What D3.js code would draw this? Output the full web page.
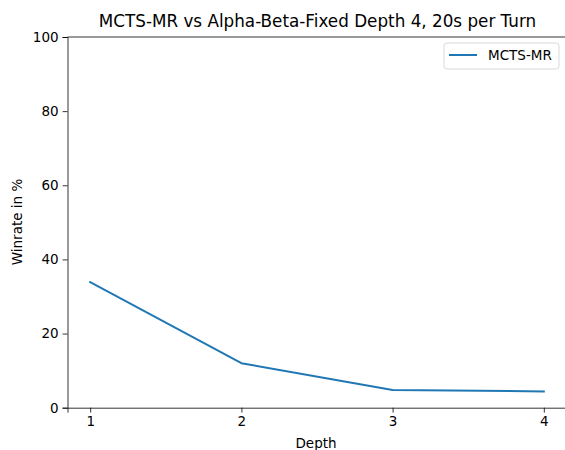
<!DOCTYPE html>
<html>
<head>
<meta charset="utf-8">
<script src="https://cdn.jsdelivr.net/npm/d3@7"></script>
<style>
  body { margin: 0; background: #fff; }
  text { font-family: 'DejaVu Sans', sans-serif; fill: #000; }
</style>
</head>
<body>
<div id="chart"></div>
<script>
const depths = [1, 2, 3, 4];
const winrates = [33.9, 12.0, 4.8, 4.4];
const yTicks = [0, 20, 40, 60, 80, 100];
const seriesName = 'MCTS-MR';
const title = 'MCTS-MR vs Alpha-Beta-Fixed Depth 4, 20s per Turn';

const width = 565;
const height = 450;
const margin = { top: 37, right: -1.5, bottom: 42.3, left: 67.5 };

const svg = d3.select('#chart').append('svg')
  .attr('width', width)
  .attr('height', height);

const x = d3.scaleLinear()
  .domain([0.85, 4.15])
  .range([margin.left, width - margin.right]);

const y = d3.scaleLinear()
  .domain([0, 100])
  .range([height - margin.bottom, margin.top]);

const xAxis = svg.append('g')
  .attr('transform', `translate(0,${height - margin.bottom})`)
  .call(d3.axisBottom(x).tickValues(depths).tickFormat(d3.format('d')).tickSizeOuter(0).tickSize(4.9).tickPadding(4));

const yAxis = svg.append('g')
  .attr('transform', `translate(${margin.left},0)`)
  .call(d3.axisLeft(y).tickValues(yTicks).tickSizeOuter(0).tickSize(4.9).tickPadding(4));

[xAxis, yAxis].forEach(g => {
  g.selectAll('.domain').attr('stroke', '#000').attr('stroke-width', 0.8);
  g.selectAll('.tick line').attr('stroke', '#000').attr('stroke-width', 0.8);
  g.selectAll('.tick text').style('font-size', '13.5px').attr('fill', '#000');
});

// top spine
svg.append('line')
  .attr('x1', margin.left).attr('x2', width - margin.right)
  .attr('y1', margin.top).attr('y2', margin.top)
  .attr('stroke', '#000').attr('stroke-width', 0.8);

const line = d3.line()
  .x((d, i) => x(depths[i]))
  .y(d => y(d));

svg.append('path')
  .datum(winrates)
  .attr('fill', 'none')
  .attr('stroke', '#1f77b4')
  .attr('stroke-width', 2)
  .attr('stroke-linejoin', 'round')
  .attr('stroke-linecap', 'square')
  .attr('d', line);

svg.append('text')
  .attr('x', 317.5)
  .attr('y', 27)
  .attr('text-anchor', 'middle')
  .style('font-size', '16.8px')
  .text(title);

svg.append('text')
  .attr('x', 316)
  .attr('y', 448)
  .attr('text-anchor', 'middle')
  .style('font-size', '13.5px')
  .text('Depth');

svg.append('text')
  .attr('transform', 'translate(22,222) rotate(-90)')
  .attr('text-anchor', 'middle')
  .style('font-size', '13.5px')
  .text('Winrate in %');

// legend
const legend = svg.append('g').attr('transform', 'translate(444,43)');
legend.append('rect')
  .attr('width', 115).attr('height', 26).attr('rx', 3)
  .attr('fill', '#fff').attr('stroke', '#d9d9d9').attr('stroke-width', 1);
legend.append('line')
  .attr('x1', 5).attr('x2', 33).attr('y1', 12).attr('y2', 12)
  .attr('stroke', '#1f77b4').attr('stroke-width', 2);
legend.append('text')
  .attr('x', 44).attr('y', 17)
  .style('font-size', '13.5px')
  .text(seriesName);
</script>
</body>
</html>
